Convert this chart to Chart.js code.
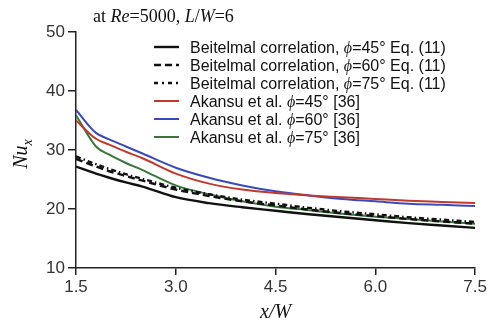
<!DOCTYPE html>
<html lang="en">
<head>
  <meta charset="UTF-8" />
  <title>Nu_x vs x/W</title>
  <script src="https://cdn.jsdelivr.net/npm/chart.js@4.4.0/dist/chart.umd.min.js"></script>
  <style>
    html, body { margin: 0; padding: 0; background: #fff; }
    #wrap { width: 489px; height: 325px; position: relative; }
  </style>
</head>
<body>
  <div id="wrap"><canvas id="nuChart"></canvas></div>

  <script>
    // ---- data ------------------------------------------------------------
    const xW = [1.5, 1.8, 2.0, 2.25, 2.5, 3.0, 3.5, 4.0, 4.5, 5.0, 5.5, 6.0, 6.5, 7.0, 7.5];

    const beit45 = [27.2, 26.0, 25.3, 24.5, 23.8, 22.0, 21.0, 20.3, 19.7, 19.1, 18.6, 18.1, 17.6, 17.2, 16.8];
    const beit60 = [28.5, 27.2, 26.4, 25.6, 24.8, 23.3, 22.2, 21.3, 20.6, 19.9, 19.3, 18.8, 18.3, 17.9, 17.5];
    const beit75 = [28.9, 27.6, 26.8, 25.9, 25.1, 23.6, 22.5, 21.6, 20.9, 20.2, 19.6, 19.1, 18.6, 18.2, 17.8];
    const akan45 = [35.0, 31.9, 30.9, 29.7, 28.6, 26.0, 24.3, 23.3, 22.7, 22.3, 22.0, 21.7, 21.4, 21.2, 21.0];
    const akan60 = [36.8, 32.9, 31.8, 30.6, 29.4, 27.0, 25.3, 24.0, 23.0, 22.3, 21.7, 21.3, 20.9, 20.7, 20.5];
    const akan75 = [35.9, 30.6, 29.2, 27.8, 26.6, 24.0, 22.5, 21.3, 20.4, 19.8, 19.2, 18.7, 18.3, 17.9, 17.5];

    const xTicks = [1.5, 3.0, 4.5, 6.0, 7.5];
    const yTicks = [10, 20, 30, 40, 50];

    const legendNames = [
      ['Beitelmal correlation, ', '=45° Eq. (11)'],
      ['Beitelmal correlation, ', '=60° Eq. (11)'],
      ['Beitelmal correlation, ', '=75° Eq. (11)'],
      ['Akansu et al. ', '=45° [36]'],
      ['Akansu et al. ', '=60° [36]'],
      ['Akansu et al. ', '=75° [36]']
    ];

    const pts = ys => xW.map((x, i) => ({ x, y: ys[i] }));
    const line = (ys, color, dash, width) => ({
      data: pts(ys), borderColor: color, borderWidth: width, borderDash: dash,
      pointRadius: 0, showLine: true, cubicInterpolationMode: 'monotone', fill: false
    });

    const datasets = [
      line(beit45, '#111', [], 2.4),
      line(beit60, '#111', [7, 4], 2.4),
      line(beit75, '#111', [5, 3, 1.5, 3], 2.4),
      line(akan45, '#c0392f', [], 2),
      line(akan60, '#3b4abb', [], 2),
      line(akan75, '#3a763b', [], 2)
    ];

    const SANS = '"Liberation Sans", Arial, sans-serif';
    const SERIF = '"Liberation Serif", "Times New Roman", serif';

    // mixed-font text helper: parts = [[text, font], ...]
    function drawParts(ctx, parts, x, y) {
      parts.forEach(([t, f]) => {
        ctx.font = f;
        ctx.fillText(t, x, y);
        x += ctx.measureText(t).width;
      });
      return x;
    }

    const decor = {
      id: 'decor',
      afterDraw(chart) {
        const ctx = chart.ctx;
        const xs = chart.scales.x;
        ctx.save();
        ctx.fillStyle = '#111';
        ctx.textBaseline = 'alphabetic';

        // title
        drawParts(ctx, [
          ['at ', '18px ' + SERIF],
          ['Re', 'italic 18px ' + SERIF],
          ['=5000, ', '18px ' + SERIF],
          ['L', 'italic 18px ' + SERIF],
          ['/', '18px ' + SERIF],
          ['W', 'italic 18px ' + SERIF],
          ['=6', '18px ' + SERIF]
        ], 93, 22);

        // x axis title
        ctx.font = 'italic 20px ' + SERIF;
        const xt = 'x/W';
        ctx.fillText(xt, (xs.left + xs.right) / 2 - ctx.measureText(xt).width / 2, 318);

        // y axis title
        ctx.save();
        ctx.translate(27, 154);
        ctx.rotate(-Math.PI / 2);
        ctx.font = 'italic 20px ' + SERIF;
        const w1 = ctx.measureText('Nu').width;
        ctx.font = 'italic 14px ' + SERIF;
        const w2 = ctx.measureText('x').width;
        const px = -(w1 + w2) / 2;
        ctx.font = 'italic 20px ' + SERIF;
        ctx.fillText('Nu', px, 0);
        ctx.font = 'italic 14px ' + SERIF;
        ctx.fillText('x', px + w1, 5);
        ctx.restore();

        // legend
        let ly = 47;
        datasets.forEach((ds, i) => {
          ctx.save();
          ctx.strokeStyle = ds.borderColor;
          ctx.lineWidth = ds.borderWidth;
          ctx.setLineDash(i === 2 ? [4, 4, 2, 4] : ds.borderDash);
          ctx.beginPath();
          ctx.moveTo(154, ly);
          ctx.lineTo(179, ly);
          ctx.stroke();
          ctx.restore();
          const [a, b] = legendNames[i];
          drawParts(ctx, [
            [a, '16px ' + SANS],
            ['\u03d5', 'italic 16px ' + SERIF],
            [b, '16px ' + SANS]
          ], 190, ly + 5.5);
          ly += 18;
        });
        ctx.restore();
      }
    };

    new Chart(document.getElementById('nuChart'), {
      type: 'scatter',
      data: { datasets },
      plugins: [decor],
      options: {
        responsive: true,
        maintainAspectRatio: false,
        animation: false,
        layout: { padding: { top: 32, right: 11, left: 0, bottom: 0 } },
        plugins: { legend: { display: false }, tooltip: { enabled: false } },
        scales: {
          x: {
            type: 'linear', min: 1.5, max: 7.5,
            afterBuildTicks: s => { s.ticks = xTicks.map(v => ({ value: v })); },
            afterFit: s => { s.height = 57; },
            ticks: { color: '#333', font: { family: SANS, size: 17 }, padding: 2,
                     callback: v => v.toFixed(1), maxRotation: 0 },
            grid: { drawOnChartArea: false, drawTicks: true, tickLength: 7, color: '#222', lineWidth: 1.5 },
            border: { display: true, color: '#222', width: 1.5 }
          },
          y: {
            min: 10, max: 50,
            afterBuildTicks: s => { s.ticks = yTicks.map(v => ({ value: v })); },
            afterFit: s => { s.width = 76; },
            ticks: { color: '#333', font: { family: SANS, size: 17 }, padding: 3 },
            grid: { drawOnChartArea: false, drawTicks: true, tickLength: 8, color: '#222', lineWidth: 1.5 },
            border: { display: true, color: '#222', width: 1.5 }
          }
        }
      }
    });
  </script>
</body>
</html>
